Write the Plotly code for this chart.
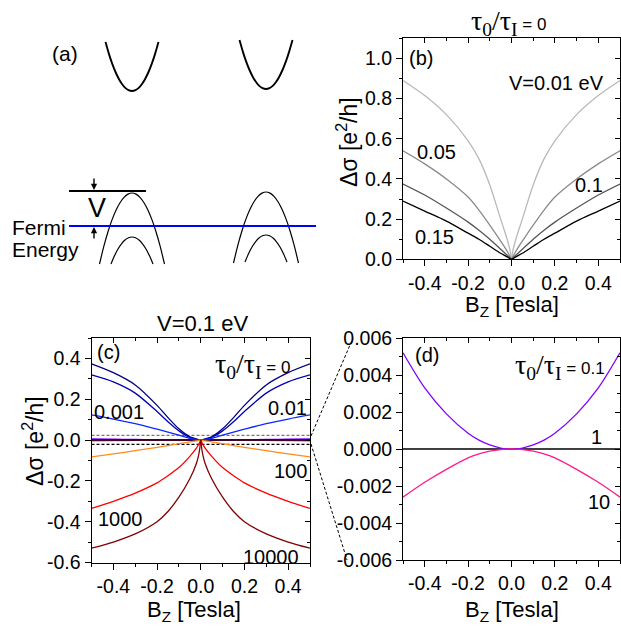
import plotly.graph_objects as go

W, H = 621, 626

# ---------------- data ----------------
B = [0, 0.005, 0.01, 0.02, 0.05, 0.1, 0.15, 0.2, 0.3, 0.4, 0.5]

# panel (b): tau0/tauI = 0, various V (eV)
b_names = ["0.01", "0.05", "0.1", "0.15"]
b_v001 = [0, 0.035, 0.06, 0.10, 0.20, 0.37, 0.50, 0.59, 0.72, 0.815, 0.89]
b_v005 = [0, 0.010, 0.02, 0.04, 0.09, 0.17, 0.245, 0.31, 0.40, 0.475, 0.54]
b_v010 = [0, 0.004, 0.01, 0.02, 0.05, 0.10, 0.145, 0.185, 0.255, 0.32, 0.375]
b_v015 = [0, 0.002, 0.005, 0.012, 0.03, 0.065, 0.10, 0.13, 0.19, 0.24, 0.29]
b_colors = ["#b9b9b9", "#8a8a8a", "#555555", "#000000"]

# panel (c): V = 0.1 eV, various tau0/tauI
c_names = ["0", "0.001", "0.01", "100", "1000", "10000"]
c_t0 = [0, 0.0005, 0.002, 0.005, 0.016, 0.055, 0.11, 0.17, 0.27, 0.33, 0.373]
c_t0001 = [0, 0.0004, 0.0015, 0.004, 0.013, 0.045, 0.09, 0.14, 0.23, 0.285, 0.319]
c_t001 = [0, 0.0002, 0.0006, 0.002, 0.008, 0.024, 0.039, 0.053, 0.08, 0.103, 0.123]
c_t100 = [0, -0.001, -0.002, -0.004, -0.009, -0.018, -0.027, -0.036, -0.052, -0.068, -0.083]
c_t1000 = [0, -0.012, -0.022, -0.04, -0.08, -0.135, -0.175, -0.21, -0.26, -0.30, -0.335]
c_t10000 = [0, -0.045, -0.075, -0.115, -0.19, -0.28, -0.35, -0.40, -0.46, -0.50, -0.53]
c_colors = ["#000080", "#0000b4", "#0a28ff", "#ff8c1a", "#ff0000", "#800000"]

# panel (d): V = 0.1 eV, small tau0/tauI
d_names = ["0.1", "1", "10"]
d_t01 = [0, 0, 0.000002, 0.000008, 0.00005, 0.00022, 0.00048, 0.00085, 0.0019, 0.0033, 0.0052]
d_t1 = [0, 0, 0, 0, 0, 0, 0, 0, 0, 0, 0]
d_t10 = [0, 0, -0.000001, -0.000004, -0.00003, -0.00012, -0.00027, -0.00048, -0.0011, -0.0018, -0.0026]
d_colors = ["#8000ff", "#000000", "#ff1a8c"]

# zoom window of (d) drawn in (c)
zoom_band = [0.023, -0.021]

# tick labels
x_tickvals = [-0.4, -0.2, 0.0, 0.2, 0.4]
x_ticktext = ["-0.4", "-0.2", "0.0", "0.2", "0.4"]
b_tickvals = [0.0, 0.2, 0.4, 0.6, 0.8, 1.0]
b_ticktext = ["0.0", "0.2", "0.4", "0.6", "0.8", "1.0"]
c_tickvals = [-0.6, -0.4, -0.2, 0.0, 0.2, 0.4]
c_ticktext = ["-0.6", "-0.4", "-0.2", "0.0", "0.2", "0.4"]
d_tickvals = [-0.006, -0.004, -0.002, 0.0, 0.002, 0.004, 0.006]
d_ticktext = ["-0.006", "-0.004", "-0.002", "0.000", "0.002", "0.004", "0.006"]

# schematic (a): band shapes (offset from vertex, pixel-like units)
cond_dx = [-26.5, -23, -20, -16.5, -13, -10, -7, -3.5, 0, 3.5, 7, 10, 13, 16.5, 20, 23, 26.5]
cond_dy = [-49, -36.9, -27.9, -19, -11.8, -7, -3.4, -0.9, 0, -0.9, -3.4, -7, -11.8, -19, -27.9, -36.9, -49]
val_out_dx = [-32.5, -28, -24, -20, -16, -12, -8, -4, 0, 4, 8, 12, 16, 20, 24, 28, 32.5]
val_out_dy = [71, 52.7, 38.7, 26.9, 17.2, 9.7, 4.3, 1.1, 0, 1.1, 4.3, 9.7, 17.2, 26.9, 38.7, 52.7, 71]
val_in_dx = [-21, -17.5, -14, -10.5, -7, -3.5, 0, 3.5, 7, 10.5, 14, 17.5, 21]
val_in_dy = [27, 18.8, 12, 6.8, 3, 0.8, 0, 0.8, 3, 6.8, 12, 18.8, 27]
valley_x = [132, 266]
cond_y = [91, 89]
val_out_y = [193, 192]
val_in_y = [237, 235]

# ---------------- helpers ----------------
def px(x):
    return x / W

def py(y):
    return 1 - y / H

SANS = "Liberation Sans"
SERIF = "Liberation Serif"

fig = go.Figure()

def add_branches(vals, color, xa, ya, width=1.3):
    # right branch and mirrored left branch (drawn separately to keep the cusp)
    fig.add_trace(go.Scatter(x=B, y=vals, mode="lines", line=dict(color=color, width=width, shape="spline", smoothing=0.8),
                             xaxis=xa, yaxis=ya, showlegend=False, hoverinfo="skip"))
    fig.add_trace(go.Scatter(x=[-b for b in B], y=vals, mode="lines", line=dict(color=color, width=width, shape="spline", smoothing=0.8),
                             xaxis=xa, yaxis=ya, showlegend=False, hoverinfo="skip"))

for vals, col in zip([b_v001, b_v005, b_v010, b_v015], b_colors):
    add_branches(vals, col, "x", "y")

# zoom band dashed lines in (c)
fig.add_trace(go.Scatter(x=[-0.5, 0.5], y=[zoom_band[0]] * 2, mode="lines", line=dict(color="#777777", width=1.2, dash="3px,2px"),
                         xaxis="x2", yaxis="y2", showlegend=False, hoverinfo="skip"))
fig.add_trace(go.Scatter(x=[-0.5, 0.5], y=[zoom_band[1]] * 2, mode="lines", line=dict(color="#000000", width=1.2, dash="3px,2px"),
                         xaxis="x2", yaxis="y2", showlegend=False, hoverinfo="skip"))

for vals, col in zip([d_t01, d_t10, d_t1], [d_colors[0], d_colors[2], d_colors[1]]):
    add_branches(vals, col, "x2", "y2", width=1.6)
for vals, col in zip([c_t0, c_t0001, c_t001, c_t100, c_t1000, c_t10000], c_colors):
    add_branches(vals, col, "x2", "y2")

for vals, col in zip([d_t1, d_t01, d_t10], [d_colors[1], d_colors[0], d_colors[2]]):
    add_branches(vals, col, "x3", "y3")

# schematic curves
for cx, y0 in zip(valley_x, cond_y):
    fig.add_trace(go.Scatter(x=[cx + d for d in cond_dx], y=[y0 + d for d in cond_dy], mode="lines",
                             line=dict(color="black", width=1.9, shape="spline", smoothing=0.6), xaxis="x4", yaxis="y4",
                             showlegend=False, hoverinfo="skip"))
for cx, y0 in zip(valley_x, val_out_y):
    fig.add_trace(go.Scatter(x=[cx + d for d in val_out_dx], y=[y0 + d for d in val_out_dy], mode="lines",
                             line=dict(color="black", width=1.2, shape="spline", smoothing=0.6), xaxis="x4", yaxis="y4",
                             showlegend=False, hoverinfo="skip"))
for cx, y0 in zip(valley_x, val_in_y):
    fig.add_trace(go.Scatter(x=[cx + d for d in val_in_dx], y=[y0 + d for d in val_in_dy], mode="lines",
                             line=dict(color="black", width=1.2, shape="spline", smoothing=0.6), xaxis="x4", yaxis="y4",
                             showlegend=False, hoverinfo="skip"))

# dummy traces for mirrored (inside) tick axes
for xa, ya in [("x5", "y5"), ("x6", "y6"), ("x7", "y7")]:
    fig.add_trace(go.Scatter(x=[None], y=[None], xaxis=xa, yaxis=ya, showlegend=False, hoverinfo="skip"))

# ---------------- axes ----------------
tickfont = dict(family=SANS, size=19.5, color="black")

def main_x(domain, anchor):
    return dict(domain=domain, anchor=anchor, range=[-0.5, 0.5], showline=True, linecolor="black", linewidth=1,
                mirror=True, ticks="outside", ticklen=6, tickwidth=1, tickcolor="black",
                tickmode="array", tickvals=x_tickvals, ticktext=x_ticktext,
                minor=dict(tickmode="linear", tick0=0, dtick=0.1, ticks="outside", ticklen=3, tickcolor="black"),
                showgrid=False, zeroline=False, tickfont=tickfont, fixedrange=True, automargin=False)

def main_y(domain, anchor, rng, tv, tt, minor):
    return dict(domain=domain, anchor=anchor, range=rng, showline=True, linecolor="black", linewidth=1,
                mirror=True, ticks="outside", ticklen=6, tickwidth=1, tickcolor="black",
                tickmode="array", tickvals=tv, ticktext=tt,
                minor=dict(tickmode="linear", tick0=0, dtick=minor, ticks="outside", ticklen=3, tickcolor="black"),
                showgrid=False, zeroline=False, tickfont=tickfont, fixedrange=True, automargin=False)

def over_x(base, anchor):
    return dict(overlaying=base, side="top", anchor=anchor, range=[-0.5, 0.5], showline=False,
                ticks="inside", ticklen=5, tickcolor="black", tickmode="array", tickvals=x_tickvals,
                minor=dict(tickmode="linear", tick0=0, dtick=0.1, ticks="inside", ticklen=3, tickcolor="black"),
                showticklabels=False, showgrid=False, zeroline=False, fixedrange=True, automargin=False)

def over_y(base, anchor, rng, tv, minor):
    return dict(overlaying=base, side="right", anchor=anchor, range=rng, showline=False,
                ticks="inside", ticklen=5, tickcolor="black", tickmode="array", tickvals=tv,
                minor=dict(tickmode="linear", tick0=0, dtick=minor, ticks="inside", ticklen=3, tickcolor="black"),
                showticklabels=False, showgrid=False, zeroline=False, fixedrange=True, automargin=False)

b_dx = [px(403), px(620)]
b_dy = [py(259.3), py(38.3)]
c_dx = [px(91.5), px(310)]
c_dy = [py(562.5), py(338)]
d_dx = [px(403), px(620)]
d_dy = [py(560), py(338)]

b_rng = [0, 1.1]
c_rng = [-0.6, 0.5]
d_rng = [-0.006, 0.006]

fig.update_layout(
    width=W, height=H, margin=dict(l=0, r=0, t=0, b=0, pad=0, autoexpand=False),
    paper_bgcolor="white", plot_bgcolor="rgba(0,0,0,0)",
    showlegend=False,
    xaxis=main_x(b_dx, "y"), yaxis=main_y(b_dy, "x", b_rng, b_tickvals, b_ticktext, 0.1),
    xaxis2=main_x(c_dx, "y2"), yaxis2=main_y(c_dy, "x2", c_rng, c_tickvals, c_ticktext, 0.1),
    xaxis3=main_x(d_dx, "y3"), yaxis3=main_y(d_dy, "x3", d_rng, d_tickvals, d_ticktext, 0.001),
    xaxis4=dict(domain=[0, px(330)], anchor="y4", range=[0, 330], visible=False, fixedrange=True),
    yaxis4=dict(domain=[py(300), 1], anchor="x4", range=[300, 0], visible=False, fixedrange=True),
    xaxis5=over_x("x", "y"), yaxis5=over_y("y", "x", b_rng, b_tickvals, 0.1),
    xaxis6=over_x("x2", "y2"), yaxis6=over_y("y2", "x2", c_rng, c_tickvals, 0.1),
    xaxis7=over_x("x3", "y3"), yaxis7=over_y("y3", "x3", d_rng, d_tickvals, 0.001),
)

# ---------------- shapes (schematic lines, connectors) ----------------
shapes = [
    dict(type="line", xref="x4", yref="y4", x0=69, x1=146, y0=191, y1=191, line=dict(color="black", width=1.8)),
    dict(type="line", xref="x4", yref="y4", x0=69, x1=316, y0=226, y1=226, line=dict(color="#0000ff", width=2)),
    dict(type="line", xref="paper", yref="paper", x0=px(311), y0=py(436), x1=px(353), y1=py(338),
         line=dict(color="black", width=1, dash="3px,2px")),
    dict(type="line", xref="paper", yref="paper", x0=px(311), y0=py(444), x1=px(347), y1=py(560),
         line=dict(color="black", width=1, dash="3px,2px")),
]
fig.update_layout(shapes=shapes)

# ---------------- annotations ----------------
ann = []

def txt(x, y, s, size=20, family=SANS, xanchor="center", yanchor="middle", angle=0):
    ann.append(dict(x=px(x), y=py(y), xref="paper", yref="paper", text=s, showarrow=False,
                    font=dict(family=family, size=size, color="black"), xanchor=xanchor, yanchor=yanchor,
                    textangle=angle))

def tau(v):
    return ("τ<sub>0</sub>/τ<sub>I</sub><span style='font-family:Liberation Sans;font-size:17px'> = "
            + v + "</span>")

# panel a
txt(65, 53, "(a)", 21)
txt(97, 208, "V", 27)
txt(10, 227, "Fermi", 21, xanchor="left")
txt(10, 249, "Energy", 21, xanchor="left")
ann.append(dict(x=94, y=190, ax=94, ay=177, xref="x4", yref="y4", axref="x4", ayref="y4", text="",
                showarrow=True, arrowhead=2, arrowsize=0.9, arrowwidth=1.4, arrowcolor="black"))
ann.append(dict(x=94, y=227, ax=94, ay=240, xref="x4", yref="y4", axref="x4", ayref="y4", text="",
                showarrow=True, arrowhead=2, arrowsize=0.9, arrowwidth=1.4, arrowcolor="black"))

# panel b
txt(508, 22, tau("0"), 28, family=SERIF)
txt(421, 58, "(b)", 20)
txt(556, 83, "V=0.01 eV", 20)
txt(436, 152, b_names[1], 20)
txt(589, 185, b_names[2], 20)
txt(434, 237, b_names[3], 20)
txt(347, 142, "Δσ [e<sup>2</sup>/h]", 23, angle=-90)
txt(512, 306, "B<sub>Z</sub> [Tesla]", 22)

# panel c
txt(202, 323, "V=0.1 eV", 22)
txt(108, 352, "(c)", 20)
txt(252, 365, tau(c_names[0]), 28, family=SERIF)
txt(119, 412, c_names[1], 20)
txt(287, 408, c_names[2], 20)
txt(290, 471, c_names[3], 20)
txt(120, 519, c_names[4], 20)
txt(271, 557, c_names[5], 20)
txt(33, 441, "Δσ [e<sup>2</sup>/h]", 23, angle=-90)
txt(194, 611, "B<sub>Z</sub> [Tesla]", 22)

# panel d
txt(427, 355, "(d)", 20)
txt(560, 366, tau(d_names[0]), 28, family=SERIF)
txt(596, 437, d_names[1], 20)
txt(599, 502, d_names[2], 20)
txt(512, 611, "B<sub>Z</sub> [Tesla]", 22)

fig.update_layout(annotations=ann)

fig.write_html("out.html", config={"displayModeBar": False},
               post_script="document.body.style.margin='0';document.body.style.overflow='hidden';")
